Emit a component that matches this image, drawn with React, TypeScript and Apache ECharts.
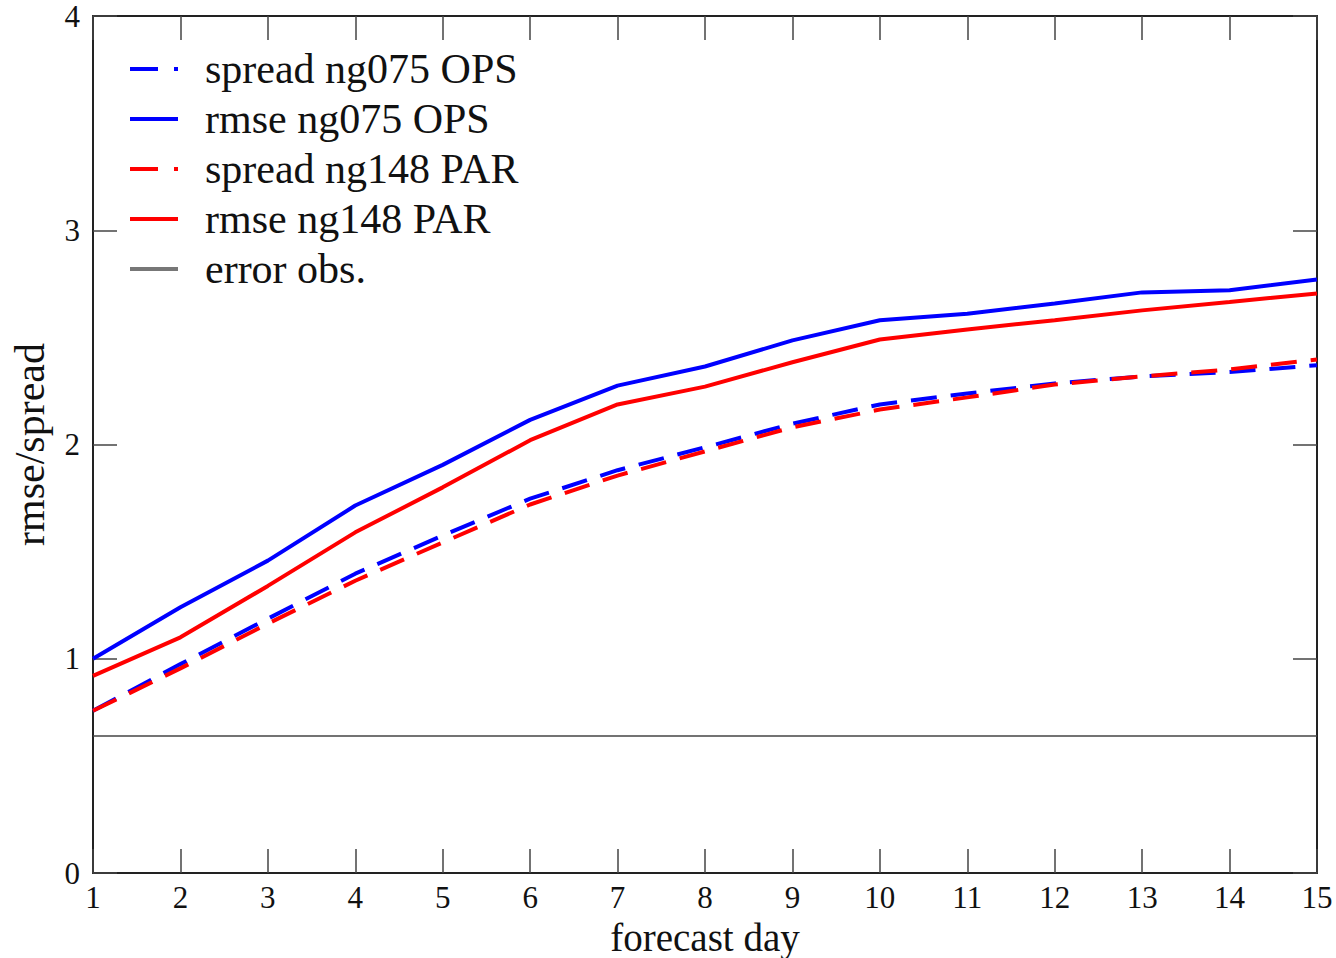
import React, { useEffect, useRef } from "react";
import * as echarts from "echarts";

const days = [1, 2, 3, 4, 5, 6, 7, 8, 9, 10, 11, 12, 13, 14, 15];
const spreadOps = [0.757, 0.975, 1.187, 1.397, 1.575, 1.747, 1.88, 1.987, 2.097, 2.187, 2.238, 2.285, 2.318, 2.338, 2.37];
const rmseOps = [1.0, 1.24, 1.458, 1.715, 1.905, 2.115, 2.275, 2.364, 2.486, 2.58, 2.61, 2.658, 2.71, 2.72, 2.77];
const spreadPar = [0.757, 0.955, 1.164, 1.364, 1.543, 1.72, 1.855, 1.968, 2.08, 2.163, 2.22, 2.28, 2.318, 2.35, 2.397];
const rmsePar = [0.92, 1.1, 1.34, 1.59, 1.8, 2.02, 2.187, 2.27, 2.384, 2.49, 2.537, 2.58, 2.626, 2.665, 2.705];
const errorObs = 0.64;
const yTicks = [0, 1, 2, 3, 4];

const FONT = "'Liberation Serif', 'Times New Roman', serif";
const DASH_ICON = "path://M0,0H28V4H0Z M44,0H48V4H44Z";
const SOLID_ICON = "path://M0,0H48V4H0Z";

export default function App() {
  const ref = useRef<HTMLDivElement>(null);
  useEffect(() => {
    if (!ref.current) return;
    const chart = echarts.init(ref.current, null, { renderer: "svg" });
    const pair = (arr: number[]) => days.map((d, i) => [d, arr[i]]);
    const frame = { show: true, onZero: false, lineStyle: { color: "#222", width: 2 } };
    const ticks = () => ({ show: true, inside: true, length: 24, lineStyle: { color: "#444", width: 1.5 } });
    const dash = [26, 14];
    chart.setOption({
      animation: false,
      backgroundColor: "#fff",
      grid: { left: 93, right: 19, top: 16, bottom: 85, outerBoundsMode: "none", containLabel: false },
      legend: {
        orient: "vertical",
        left: 125,
        top: 43,
        itemWidth: 50,
        itemHeight: 4,
        itemGap: 8,
        textStyle: { fontFamily: FONT, fontSize: 42, lineHeight: 42, color: "#111", padding: [0, 0, 0, 21] },
        data: [
          { name: "spread ng075 OPS", icon: DASH_ICON },
          { name: "rmse ng075 OPS", icon: SOLID_ICON },
          { name: "spread ng148 PAR", icon: DASH_ICON },
          { name: "rmse ng148 PAR", icon: SOLID_ICON },
          { name: "error obs.", icon: SOLID_ICON },
        ],
      },
      xAxis: [
        {
          type: "value",
          min: 1,
          max: 15,
          interval: 1,
          position: "bottom",
          axisLine: frame,
          axisTick: ticks(),
          splitLine: { show: false },
          axisLabel: { fontFamily: FONT, fontSize: 31, color: "#111", margin: 9 },
          name: "forecast day",
          nameLocation: "middle",
          nameGap: 28,
          nameTextStyle: { fontFamily: FONT, fontSize: 39, lineHeight: 40, color: "#111", verticalAlign: "top" },
        },
        {
          type: "value",
          min: 1,
          max: 15,
          interval: 1,
          position: "top",
          axisLine: frame,
          axisTick: ticks(),
          splitLine: { show: false },
          axisLabel: { show: false },
        },
      ],
      yAxis: [
        {
          type: "value",
          min: yTicks[0],
          max: yTicks[yTicks.length - 1],
          interval: 1,
          position: "left",
          axisLine: frame,
          axisTick: ticks(),
          splitLine: { show: false },
          axisLabel: { fontFamily: FONT, fontSize: 31, color: "#111", margin: 13 },
          name: "rmse/spread",
          nameLocation: "middle",
          nameGap: 42,
          nameRotate: 90,
          nameTextStyle: { fontFamily: FONT, fontSize: 42, color: "#111" },
        },
        {
          type: "value",
          min: yTicks[0],
          max: yTicks[yTicks.length - 1],
          interval: 1,
          position: "right",
          axisLine: frame,
          axisTick: ticks(),
          splitLine: { show: false },
          axisLabel: { show: false },
        },
      ],
      series: [
        {
          name: "spread ng075 OPS",
          type: "line",
          data: pair(spreadOps),
          symbol: "none",
          lineStyle: { color: "#0000ff", width: 4, type: dash },
          itemStyle: { color: "#0000ff" },
          z: 4,
        },
        {
          name: "rmse ng075 OPS",
          type: "line",
          data: pair(rmseOps),
          symbol: "none",
          lineStyle: { color: "#0000ff", width: 4 },
          itemStyle: { color: "#0000ff" },
          z: 4,
        },
        {
          name: "spread ng148 PAR",
          type: "line",
          data: pair(spreadPar),
          symbol: "none",
          lineStyle: { color: "#ff0000", width: 4, type: dash },
          itemStyle: { color: "#ff0000" },
          z: 5,
        },
        {
          name: "rmse ng148 PAR",
          type: "line",
          data: pair(rmsePar),
          symbol: "none",
          lineStyle: { color: "#ff0000", width: 4 },
          itemStyle: { color: "#ff0000" },
          z: 5,
        },
        {
          name: "error obs.",
          type: "line",
          data: [
            [days[0], errorObs],
            [days[days.length - 1], errorObs],
          ],
          symbol: "none",
          lineStyle: { color: "#444", width: 1.5 },
          itemStyle: { color: "#777" },
          z: 3,
        },
      ],
    });
    return () => chart.dispose();
  }, []);
  return (
    <div
      ref={ref}
      style={{ position: "fixed", left: 0, top: 0, width: 1336, height: 958, background: "#fff" }}
    />
  );
}
